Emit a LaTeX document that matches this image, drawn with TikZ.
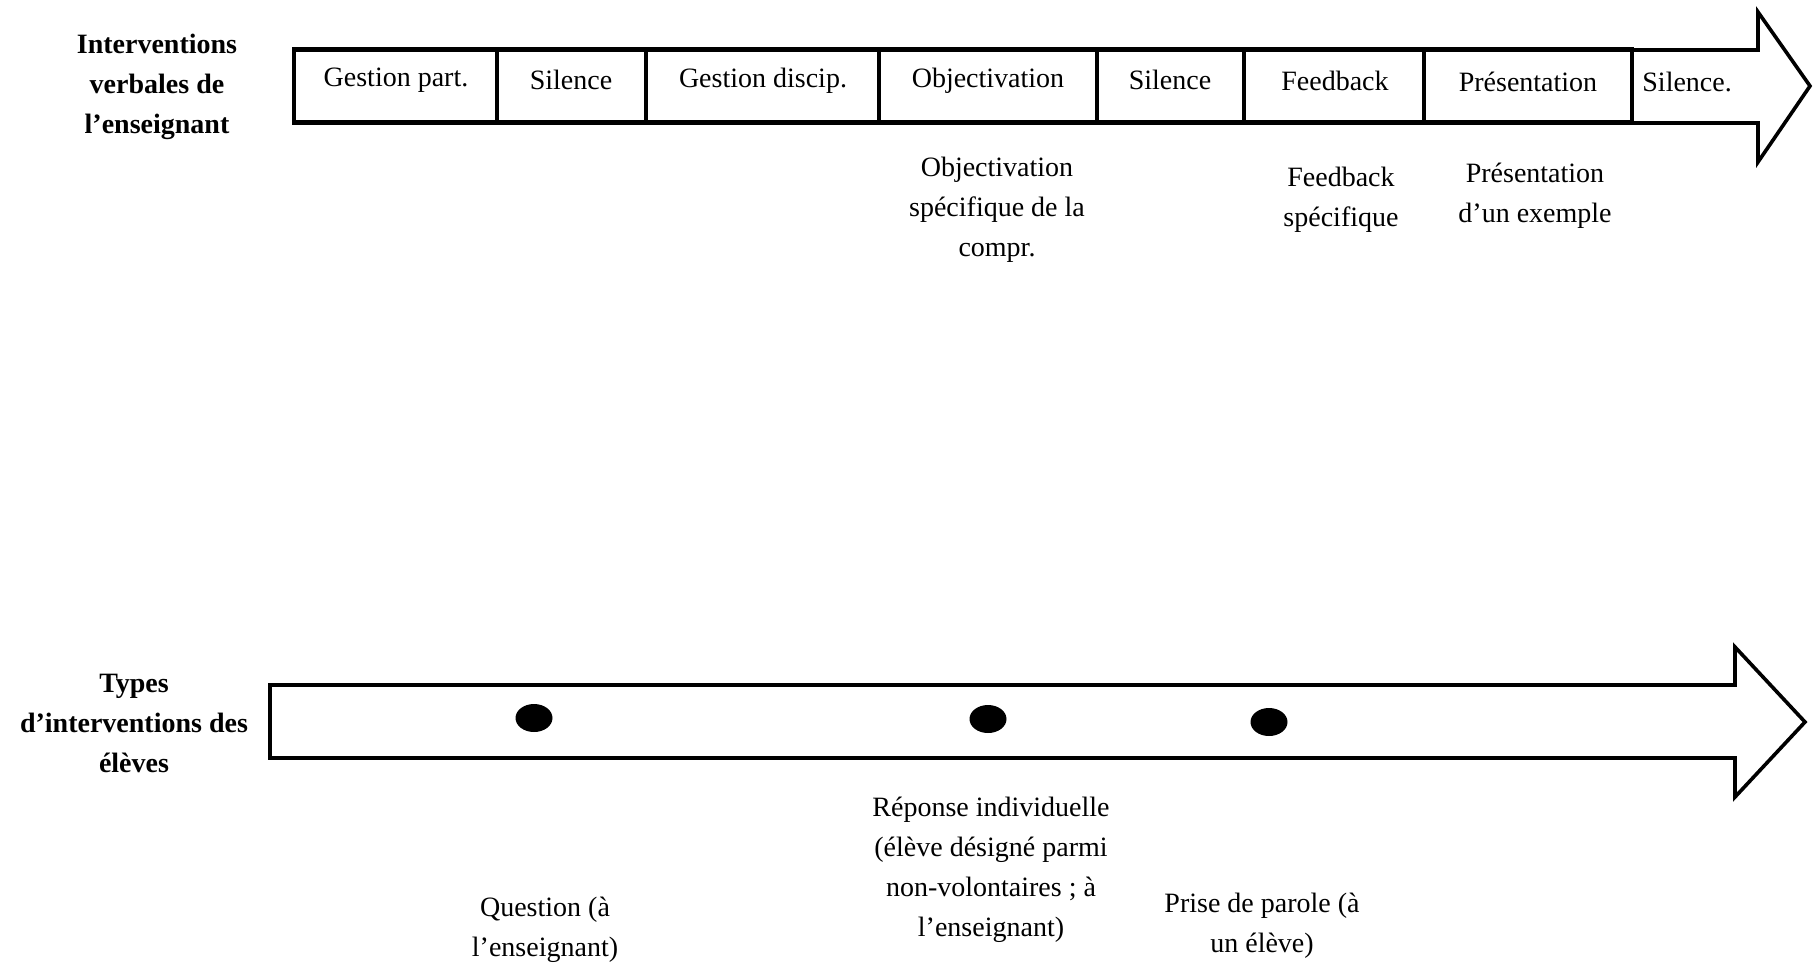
\documentclass[tikz,border=0pt]{standalone}
\usepackage{fontspec}
\setmainfont{Liberation Serif}
\tikzset{
  lbl/.style={font=\fontsize{14}{20}\selectfont, align=center, inner sep=0pt},
  sidelbl/.style={font=\fontsize{14}{20}\selectfont\bfseries, align=center, inner sep=0pt},
  frame/.style={line width=1.8pt, line join=miter},
}
\begin{document}
\begin{tikzpicture}[x=0.5pt,y=-0.5pt]
\useasboundingbox (0,0) rectangle (1814,965);
% fleche des interventions de l'enseignant
\draw[frame] (294,50) -- (1758,50) -- (1758,12) -- (1810,86) -- (1758,162) -- (1758,123) -- (294,123) -- cycle;
\foreach \a/\b in {294/497,497/646,646/879,879/1097,1097/1244,1244/1424,1424/1632}{
	\draw[frame] (\a,49) rectangle (\b,122);}
\node[lbl] (gpart) at (396,80) {Gestion part.};
\node[lbl] (sil1) at (571,80) {Silence};
\node[lbl] (gdisc) at (763,81) {Gestion discip.};
\node[lbl] (obj) at (988,81) {Objectivation};
\node[lbl] (sil2) at (1170,80) {Silence};
\node[lbl] (fb) at (1335,81) {Feedback};
\node[lbl] (pres) at (1528,82) {Présentation};
\node[lbl, anchor=west] (sil3) at (1642,82) {Silence.};
\node[lbl] (objspec) at (997,210) {Objectivation\\spécifique de la\\compr.};
\node[lbl] (fbspec) at (1341,200) {Feedback\\spécifique};
\node[lbl] (presex) at (1535,196) {Présentation\\d’un exemple};
\node[sidelbl] (ens) at (157,87) {Interventions\\verbales de\\l’enseignant};
% fleche des interventions des eleves
\draw[frame] (270,685) -- (1735,685) -- (1735,647) -- (1805,722) -- (1735,797) -- (1735,758) -- (270,758) -- cycle;
\foreach \x/\y in {534/718,988/719,1269/722}{
	\fill (\x,\y) ellipse [x radius=9.25pt, y radius=7pt];}
\node[sidelbl] (elev) at (134,723) {Types\\d’interventions des\\élèves};
\node[lbl] (quest) at (545,930) {Question (à\\l’enseignant)};
\node[lbl] (repind) at (991,870) {Réponse individuelle\\(élève désigné parmi\\non-volontaires ; à\\l’enseignant)};
\node[lbl] (prise) at (1262,926) {Prise de parole (à\\un élève)};
\end{tikzpicture}
\end{document}
